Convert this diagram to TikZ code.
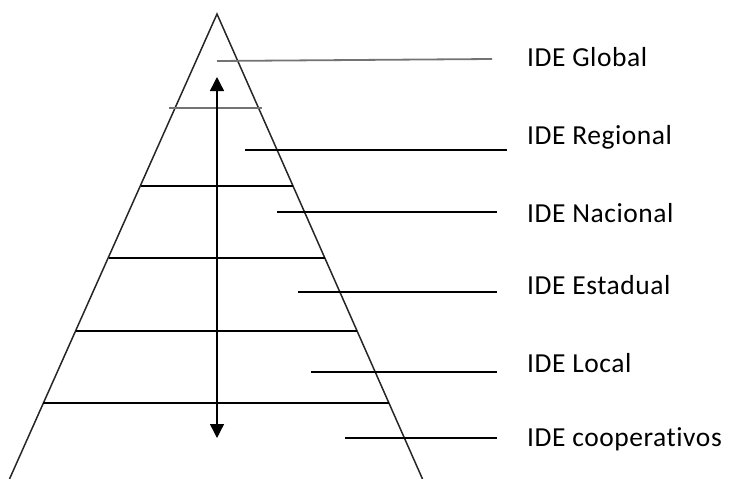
\documentclass[tikz,border=0pt]{standalone}
\usepackage{fontspec}
\setmainfont{Carlito}[Ligatures=NoCommon,LetterSpace=2]
\usetikzlibrary{arrows.meta}
\begin{document}
\begin{tikzpicture}[x=1pt,y=-1pt,
  edge/.style={line width=1.5pt,draw=black!85},
  tier/.style={line width=1.4pt,draw=black},
  lead/.style={line width=1.2pt,draw=black},
  lbl/.style={anchor=west,inner sep=0pt,font=\fontsize{27.5}{32}\selectfont},
  dblarrow/.style={line width=1.4pt,{Triangle[width=14pt,length=14pt]}-{Triangle[width=14pt,length=14pt]}}]
\useasboundingbox (0,0) rectangle (731,479);
% pyramid edges
\coordinate (apex) at (217,14);
\coordinate (bl) at (9.5,479);
\coordinate (br) at (422.5,479);
\draw[edge] (bl) -- (apex) -- (br);
% tiers
\coordinate (t1l) at (169,108); \coordinate (t1r) at (262,108);
\coordinate (t2l) at (141,186); \coordinate (t2r) at (293,186);
\coordinate (t3l) at (109,258); \coordinate (t3r) at (325,258);
\coordinate (t4l) at (76,331);  \coordinate (t4r) at (357,331);
\coordinate (t5l) at (43,403);  \coordinate (t5r) at (389,403);
\draw[tier,draw=black!55,line width=1.8pt] (t1l) -- (t1r);
\draw[tier] (t2l) -- (t2r);
\draw[tier] (t3l) -- (t3r);
\draw[tier] (t4l) -- (t4r);
\draw[tier] (t5l) -- (t5r);
% arrow
\coordinate (atop) at (217,77);
\coordinate (abot) at (217,438);
\draw[dblarrow] (atop) -- (abot);
% labels
\node[lbl] (g) at (527,57) {IDE Global};
\node[lbl] (r) at (527,137) {IDE Regional};
\node[lbl] (n) at (527,213) {IDE Nacional};
\node[lbl] (e) at (527,285) {IDE Estadual};
\node[lbl] (l) at (527,363) {IDE Local};
\node[lbl] (c) at (527,439) {IDE cooperativos};
% leader lines
\coordinate (g1) at (217,61);  \coordinate (g2) at (492,59);
\coordinate (r1) at (245,150); \coordinate (r2) at (507,150);
\coordinate (n1) at (277,212); \coordinate (n2) at (497,212);
\coordinate (e1) at (298,292); \coordinate (e2) at (497,292);
\coordinate (l1) at (311,372); \coordinate (l2) at (497,372);
\coordinate (c1) at (345,438); \coordinate (c2) at (497,438);
\draw[lead,draw=black!55,line width=1.8pt] (g1) -- (g2);
\draw[lead] (r1) -- (r2);
\draw[lead] (n1) -- (n2);
\draw[lead] (e1) -- (e2);
\draw[lead] (l1) -- (l2);
\draw[lead] (c1) -- (c2);
\end{tikzpicture}
\end{document}
